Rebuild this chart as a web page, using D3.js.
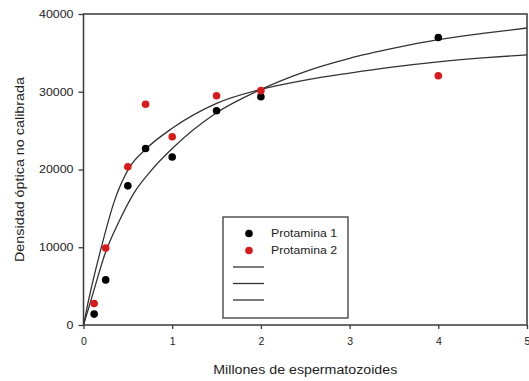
<!DOCTYPE html>
<html>
<head>
<meta charset="utf-8">
<script src="https://cdn.jsdelivr.net/npm/d3@7"></script>
<style>
  html, body { margin: 0; padding: 0; background: #fff; }
  svg { display: block; }
  text { font-family: "Liberation Sans", Arial, sans-serif; fill: #222; }
</style>
</head>
<body>
<svg id="chart" width="529" height="381"></svg>
<script>
// ---- data ----
const doses = [0.12, 0.25, 0.5, 0.7, 1.0, 1.5, 2.0, 4.0];
const protamina1 = [1400, 5800, 17900, 22700, 21600, 27560, 29360, 36980];
const protamina2 = [2770, 9900, 20360, 28390, 24220, 29490, 30140, 32060];

// fitted curves
const curveAx = [0, 0.05, 0.2, 0.35, 0.52, 0.7, 1.0, 1.5, 2.0, 2.5, 3.0, 3.5, 4.0, 4.5, 5.0];
const curveAy = [0, 2800, 9950, 16000, 20300, 22600, 25300, 28500, 30300, 31500, 32400, 33200, 33850, 34350, 34750];
const curveBx = [0, 0.09, 0.25, 0.4, 0.57, 0.75, 1.0, 1.5, 2.0, 2.5, 3.0, 3.5, 4.0, 4.5, 5.0];
const curveBy = [0, 3400, 9400, 13300, 17000, 19700, 22700, 27300, 30300, 32600, 34300, 35600, 36700, 37500, 38200];

const xTicks = [0, 1, 2, 3, 4, 5];
const yTicks = [0, 10000, 20000, 30000, 40000];
const seriesNames = ["Protamina 1", "Protamina 2"];
const seriesColors = ["#000000", "#d91a1a"];
const xTitle = "Millones de espermatozoides";
const yTitle = "Densidad óptica no calibrada";

// ---- layout ----
const svg = d3.select("#chart");
const L = 83.5, R = 527, T = 14, B = 325;
const x = d3.scaleLinear().domain([0, 5]).range([L, R]);
const y = d3.scaleLinear().domain([0, 40000]).range([B, T]);
const frameColor = "#3a3a3a";

// axes
const yAxis = d3.axisLeft(y).tickValues(yTicks).tickSize(5).tickSizeOuter(0).tickPadding(5).tickFormat(d3.format("d"));
const gy = svg.append("g").attr("transform", `translate(${L},0)`).call(yAxis);
gy.select(".domain").remove();
gy.selectAll(".tick line").attr("stroke", frameColor).attr("stroke-width", 1.3);
gy.selectAll(".tick text").style("font-size", "10.5px").attr("fill", "#222")
  .attr("textLength", d => String(d).length * 6.9).attr("lengthAdjust", "spacingAndGlyphs");

const xAxis = d3.axisBottom(x).tickValues(xTicks).tickSize(4).tickSizeOuter(0).tickPadding(9).tickFormat(d3.format("d"));
const gx = svg.append("g").attr("transform", `translate(0,${B})`).call(xAxis);
gx.select(".domain").remove();
gx.selectAll(".tick line").attr("stroke", frameColor).attr("stroke-width", 1.3);
gx.selectAll(".tick text").style("font-size", "10.5px").attr("fill", "#222");

// frame
svg.append("rect").attr("x", L).attr("y", T).attr("width", R - L).attr("height", B - T)
  .attr("fill", "none").attr("stroke", frameColor).attr("stroke-width", 1.5);

// titles
svg.append("text").attr("x", (L + R) / 2).attr("y", 374).attr("text-anchor", "middle")
  .style("font-size", "12.5px").attr("textLength", 184).attr("lengthAdjust", "spacingAndGlyphs").text(xTitle);
svg.append("text").attr("transform", `translate(24,${(T + B) / 2}) rotate(-90)`).attr("text-anchor", "middle")
  .style("font-size", "12.5px").attr("textLength", 185).attr("lengthAdjust", "spacingAndGlyphs").text(yTitle);

// curves
const line = d3.line().x(d => x(d[0])).y(d => y(d[1])).curve(d3.curveMonotoneX);
const clip = svg.append("clipPath").attr("id", "plotclip").append("rect")
  .attr("x", L).attr("y", T).attr("width", R - L).attr("height", B - T);
[[curveAx, curveAy], [curveBx, curveBy]].forEach(([cx, cy]) => {
  svg.append("path").datum(d3.zip(cx, cy)).attr("d", line)
    .attr("fill", "none").attr("stroke", "#333").attr("stroke-width", 1.3)
    .attr("clip-path", "url(#plotclip)");
});

// points
[protamina1, protamina2].forEach((vals, i) => {
  svg.append("g").selectAll("circle").data(d3.zip(doses, vals)).join("circle")
    .attr("cx", d => x(d[0])).attr("cy", d => y(d[1])).attr("r", 3.8)
    .attr("fill", seriesColors[i]);
});

// legend
const lg = svg.append("g");
lg.append("rect").attr("x", 223).attr("y", 217).attr("width", 125).attr("height", 101)
  .attr("fill", "#fff").attr("stroke", frameColor).attr("stroke-width", 1.3);
seriesNames.forEach((name, i) => {
  const cy = 233.5 + i * 17;
  lg.append("circle").attr("cx", 249).attr("cy", cy).attr("r", 3.8).attr("fill", seriesColors[i]);
  lg.append("text").attr("x", 271).attr("y", cy + 3.8).style("font-size", "10.5px")
    .attr("textLength", 66).attr("lengthAdjust", "spacingAndGlyphs").text(name);
});
[267, 283.5, 300].forEach(ly => {
  lg.append("line").attr("x1", 233).attr("x2", 264).attr("y1", ly).attr("y2", ly)
    .attr("stroke", "#333").attr("stroke-width", 1.3);
});
</script>
</body>
</html>
